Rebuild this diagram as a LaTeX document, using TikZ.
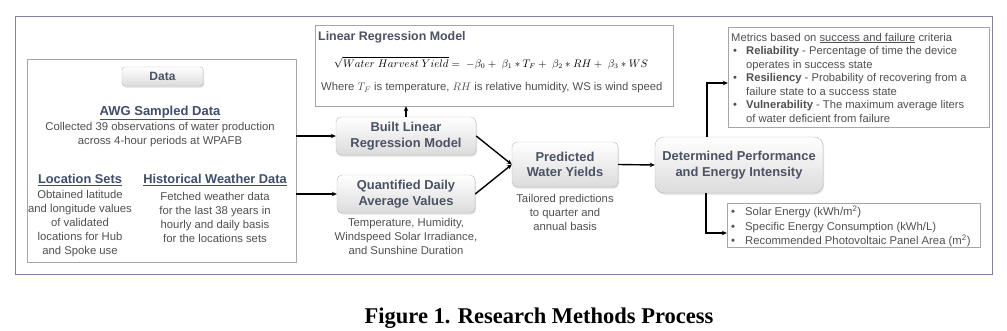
\documentclass[tikz,border=0pt]{standalone}
\usepackage{fontspec}
\setmainfont{Liberation Sans}
\newfontfamily\capfont{Liberation Serif}
\usetikzlibrary{arrows.meta, calc, shadows}
\definecolor{framec}{HTML}{8080A8}
\definecolor{headc}{HTML}{3F4D6E}
\definecolor{boxc}{HTML}{4A5263}
\definecolor{bodyc}{HTML}{505050}

\begin{document}
\begin{tikzpicture}[x=1pt,y=-1pt,>={Stealth[length=5pt,width=4.5pt]},
  body/.style={font=\fontsize{11.3}{14}\selectfont,text=bodyc,align=center,inner sep=0},
  head/.style={font=\fontsize{12.8}{15}\selectfont\bfseries,text=headc,inner sep=0},
  stepbox/.style={draw=gray!55,rounded corners=5pt,top color=white,bottom color=gray!28,drop shadow={opacity=0.25,shadow xshift=1pt,shadow yshift=-1.5pt},align=center,font=\fontsize{12.9}{15.5}\selectfont\bfseries,text=boxc,inner sep=0},
  panel/.style={draw=gray!70,fill=white,inner sep=0},
  link/.style={->,line width=1.4pt}]
\useasboundingbox (0,0) rectangle (1007,330);
\draw[framec,line width=1pt] (15,16) rectangle (992,274);
\node[panel,minimum width=269pt,minimum height=203pt] (data) at (161.5,160.5) {};
\node[stepbox,minimum width=81pt,minimum height=19pt,rounded corners=3pt,font=\fontsize{12}{13}\selectfont\bfseries] (datalbl) at (162.5,76.5) {Data};
\node[head,font=\fontsize{13}{15}\selectfont\bfseries] (awg) at (160,113) {\underline{AWG Sampled Data}};
\node[body] (awgtxt) at (160,135) {Collected 39 observations of water production\\across 4-hour periods at WPAFB};
\node[head] (loc) at (80,180) {\underline{Location Sets}}; \node[body] (loctxt) at (80,224) {Obtained latitude\\and longitude values\\of validated\\locations for Hub\\and Spoke use};
\node[head] (hist) at (215,180) {\underline{Historical Weather Data}}; \node[body] (histtxt) at (215,217) {Fetched weather data\\for the last 38 years in\\hourly and daily basis\\for the locations sets};
\node[panel,minimum width=358pt,minimum height=81pt] (lr) at (494,65.5) {};
\node[anchor=west,inner sep=0,font=\fontsize{12.4}{15}\selectfont\bfseries,text=boxc] (lrtitle) at (318,37) {Linear Regression Model};
\node[inner sep=0,font=\fontsize{10.6}{14}\selectfont] (lreq) at (491,63) {$\sqrt{\mathnormal{Water\ Harvest\ Yield}} = \ -\beta_0 + \ \beta_1 * T_F + \ \beta_2 * RH + \ \beta_3 * WS$};
\node[body,anchor=west] (lrnote) at (321,88) {Where $T_F$ is temperature, $RH$ is relative humidity, WS is wind speed};
\node[stepbox,minimum width=140pt,minimum height=38pt] (built) at (406,136) {Built Linear\\Regression Model};
\node[stepbox,minimum width=138pt,minimum height=38pt] (quant) at (406,194) {Quantified Daily\\Average Values};
\node[body] (quanttxt) at (406,236) {Temperature, Humidity,\\Windspeed Solar Irradiance,\\and Sunshine Duration};
\node[stepbox,minimum width=106pt,minimum height=45pt] (pred) at (565,164.5) {Predicted\\Water Yields};
\node[body] (predtxt) at (565,212) {Tailored predictions\\to quarter and\\annual basis};
\node[stepbox,minimum width=168pt,minimum height=56pt,rounded corners=9pt] (det) at (739,165) {Determined Performance\\and Energy Intensity};
\node[panel,minimum width=261pt,minimum height=100pt] (metrics) at (858.5,77) {};
\node[anchor=west,inner sep=0,align=left,font=\fontsize{11.2}{13.5}\selectfont,text=bodyc] (metricstxt) at (731,77.5) {Metrics based on \underline{success and failure} criteria\\\makebox[15pt][l]{\,•}\textbf{Reliability} - Percentage of time the device\\\hspace*{15pt}operates in success state\\\makebox[15pt][l]{\,•}\textbf{Resiliency} - Probability of recovering from a\\\hspace*{15pt}failure state to a success state\\\makebox[15pt][l]{\,•}\textbf{Vulnerability} - The maximum average liters\\\hspace*{15pt}of water deficient from failure};
\node[panel,minimum width=253pt,minimum height=44pt] (energy) at (853.5,225) {};
\node[anchor=west,inner sep=0,align=left,font=\fontsize{11.3}{14.5}\selectfont,text=bodyc] (energytxt) at (731,226.5) {\makebox[14pt][l]{•}Solar Energy (kWh/m\textsuperscript{2})\\\makebox[14pt][l]{•}Specific Energy Consumption (kWh/L)\\\makebox[14pt][l]{•}Recommended Photovoltaic Panel Area (m\textsuperscript{2})};
\draw[link] (data.east |- built.west) -- (built.west); \draw[link] (data.east |- quant.west) -- (quant.west);
\draw[link] (built.north) -- (built.north |- lr.south);
\draw[link] (built.east) -- (pred.west); \draw[link] (quant.east) -- (pred.west); \draw[link] (pred.east) -- (det.west);
\draw[link] ([xshift=-32pt]det.north) |- ([yshift=-6pt]metrics.west);
\draw[link] ([xshift=-33pt]det.south) |- ([yshift=-8pt]energy.west);
\node[font=\fontsize{22.5}{26}\selectfont\capfont\bfseries] (caption) at (539,318) {Figure 1. Research Methods Process};
\end{tikzpicture}
\end{document}
